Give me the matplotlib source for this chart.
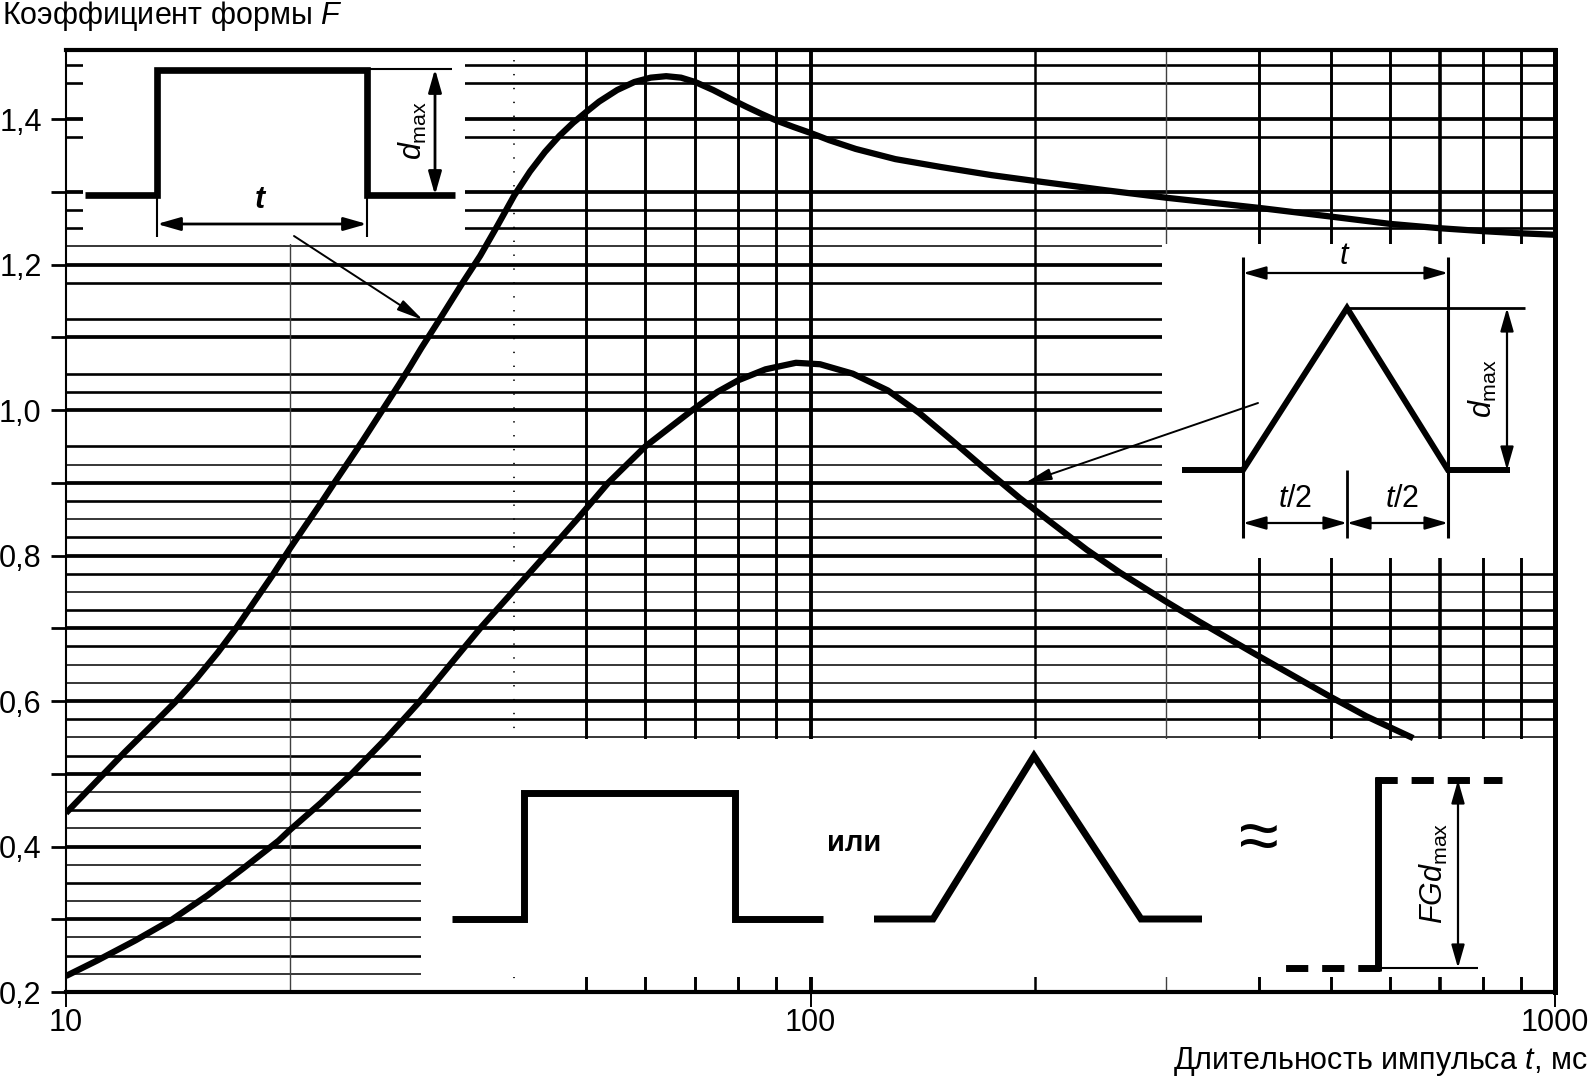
import numpy as np
import matplotlib
matplotlib.use('Agg')
import matplotlib.pyplot as plt
from matplotlib.patches import Rectangle
from matplotlib.ticker import FixedLocator, NullLocator

plt.rcParams['font.family'] = ['Liberation Sans', 'DejaVu Sans']
plt.rcParams['mathtext.fontset'] = 'custom'
plt.rcParams['mathtext.rm'] = 'Liberation Sans'
plt.rcParams['mathtext.it'] = 'Liberation Sans:italic'
plt.rcParams['mathtext.bf'] = 'Liberation Sans:bold'
plt.rcParams['lines.scale_dashes'] = False

# --- data ---
# rectangular pulse
rect_t = [10, 11, 12, 13, 14, 15, 16, 17, 18, 19, 20, 21, 22, 23, 24, 25, 26,
          27, 28, 29, 30, 32, 34, 36, 38, 40, 42, 44, 46, 48, 50, 52, 55, 58,
          61, 64, 67, 70, 74, 78, 82, 86, 90, 95, 100, 106, 115, 130, 150, 175,
          200, 250, 300, 400, 500, 600, 700, 800, 900, 1000]
rect_F = [0.446, 0.490, 0.530, 0.565, 0.598, 0.632, 0.667, 0.703, 0.740, 0.775,
          0.810, 0.842, 0.872, 0.902, 0.930, 0.957, 0.984, 1.010, 1.035, 1.060,
          1.085, 1.130, 1.173, 1.212, 1.254, 1.295, 1.328, 1.355, 1.377, 1.395,
          1.410, 1.424, 1.440, 1.451, 1.457, 1.459, 1.457, 1.451, 1.440, 1.428,
          1.417, 1.407, 1.398, 1.389, 1.381, 1.371, 1.359, 1.345, 1.334, 1.323,
          1.315, 1.302, 1.292, 1.278, 1.266, 1.256, 1.250, 1.246, 1.243, 1.241]

# triangular pulse
tri_t = [10, 11, 12.4, 13.9, 15.5, 17.3, 19.3, 20, 22, 24.2, 27, 29.9, 32.8,
         36, 39.8, 44, 48.6, 53.5, 60, 69.4, 75, 80, 87, 95.6, 103, 114, 127,
         140, 155, 172.5, 191, 212, 235, 260, 300, 333, 398, 450, 497, 558, 645]
tri_F = [0.222, 0.243, 0.271, 0.300, 0.333, 0.370, 0.408, 0.423, 0.460, 0.500,
         0.550, 0.600, 0.650, 0.700, 0.750, 0.800, 0.850, 0.900, 0.950, 1.000,
         1.025, 1.041, 1.056, 1.065, 1.063, 1.050, 1.027, 0.996, 0.958, 0.917,
         0.879, 0.843, 0.808, 0.777, 0.737, 0.709, 0.663, 0.632, 0.607, 0.579,
         0.549]

x_ticks = [10, 100, 1000]
x_ticklabels = ['10', '100', '1000']
y_ticks = [0.2, 0.4, 0.6, 0.8, 1.0, 1.2, 1.4]
y_ticklabels = ['0,2', '0,4', '0,6', '0,8', '1,0', '1,2', '1,4']
y_minor = [0.3, 0.5, 0.7, 0.9, 1.1, 1.3]

# horizontal grid every 0.025; weight class: 3 thick, 2 medium, 1 thin, 0 not visible
h_levels = [round(0.225 + 0.025 * i, 3) for i in range(51)]
h_class = [1, 2, 1, 3, 1, 2, 1, 3, 1, 2, 1, 3, 2, 1, 2, 3, 1, 1, 2, 3, 2, 1, 2, 3,
           2, 1, 2, 3, 1, 2, 0, 3, 2, 2, 0, 3, 2, 0, 2, 3, 1, 2, 2, 3, 0, 0, 2, 3,
           0, 2, 2]
h_lw = {1: 1.1, 2: 1.9, 3: 2.7}

# vertical grid
v_solid = [50, 60, 70, 80, 90, 400, 500, 600, 800, 900]
v_thin = [20, 300]

fig = plt.figure(figsize=(15.9, 10.83), dpi=100)
ax = fig.add_axes([66 / 1590, 1 - 992 / 1083, (1555 - 66) / 1590, (992 - 50) / 1083])
ax.set_xscale('log')
ax.set_xlim(10, 1000)
ax.set_ylim(0.2, 1.495)

for lev, c in zip(h_levels, h_class):
    if c:
        ax.axhline(lev, color='k', lw=h_lw[c], zorder=1)
for xv in v_solid:
    ax.axvline(xv, color='k', lw=2.1, zorder=1)
ax.axvline(700, color='k', lw=2.6, zorder=1)
ax.axvline(100, color='k', lw=2.8, zorder=1)
ax.axvline(200, color='k', lw=1.8, zorder=1)
for xv in v_thin:
    ax.axvline(xv, color='0.25', lw=1.0, zorder=1)
ax.axvline(40, color='k', lw=1.2, ls=(0, (1, 9)), zorder=1)

# white masks under the sketches
for (x0, x1, y0, y1) in [(10.54, 34.4, 1.228, 1.6), (297, 1000, 0.797, 1.228),
                         (30, 1000, 0.2206, 0.5475)]:
    ax.add_patch(Rectangle((x0, y0), x1 - x0, y1 - y0, facecolor='white',
                           edgecolor='none', zorder=2))

ax.plot(rect_t, rect_F, color='k', lw=4.5, solid_capstyle='butt',
        solid_joinstyle='round', zorder=3)
ax.plot(tri_t, tri_F, color='k', lw=4.5, solid_capstyle='butt',
        solid_joinstyle='round', zorder=3)

ax.xaxis.set_major_locator(FixedLocator(x_ticks))
ax.xaxis.set_minor_locator(NullLocator())
ax.set_xticklabels(x_ticklabels)
ax.yaxis.set_major_locator(FixedLocator(y_ticks))
ax.yaxis.set_minor_locator(FixedLocator(y_minor))
ax.set_yticklabels(y_ticklabels)
ax.tick_params(axis='x', which='major', direction='out', length=11, width=1.4,
               pad=0.5, labelsize=22)
ax.tick_params(axis='y', which='both', direction='out', length=11, width=2.0,
               pad=6.5, labelsize=22)
for s, w in [('top', 3.0), ('bottom', 3.0), ('right', 3.6), ('left', 1.5)]:
    ax.spines[s].set_linewidth(w)
    ax.spines[s].set_zorder(4)

fig.text(2 / 1590, 1 - 16 / 1083, 'Коэффициент формы $F$', fontsize=22,
         ha='left', va='center')
fig.text(1587 / 1590, 1 - 1062 / 1083, 'Длительность импульса $t$, мс',
         fontsize=22, ha='right', va='center')

# --- sketches, drawn in figure pixels ---
ov = fig.add_axes([0, 0, 1, 1], zorder=5)
ov.set_xlim(0, 1590)
ov.set_ylim(1083, 0)
ov.axis('off')
ov.patch.set_alpha(0)


def line(xs, ys, lw, **kw):
    ov.plot(xs, ys, color='k', lw=lw, solid_capstyle='butt',
            solid_joinstyle='miter', **kw)


def dim(p0, p1, lw=1.6, hl=14, hw=4.0):
    ov.annotate('', xy=p1, xytext=p0,
                arrowprops=dict(arrowstyle=f'<|-|>,head_length={hl},head_width={hw}',
                                mutation_scale=1, lw=lw, color='k',
                                shrinkA=0, shrinkB=0))


def pointer(p0, p1):
    ov.annotate('', xy=p1, xytext=p0,
                arrowprops=dict(arrowstyle='-|>,head_length=16,head_width=3.5',
                                mutation_scale=1, lw=1.4, color='k',
                                shrinkA=0, shrinkB=0))


# top-left: rectangular pulse
line([85, 157, 157, 367, 367, 455], [195, 195, 70, 70, 195, 195], 4.8)
line([157, 157], [195, 237], 1.5)
line([367, 367], [195, 237], 1.5)
dim((157, 224), (367, 224), lw=2.0)
ov.text(260, 200, 't', fontsize=22, style='italic', weight='bold',
        ha='center', va='center')
line([367, 452], [69, 69], 1.5)
dim((435, 69), (435, 195), lw=2.0)
ov.text(413, 130, '$d_{\\mathrm{max}}$', fontsize=22, rotation=90,
        ha='center', va='center')
pointer((294, 236), (423, 320))

# right: triangular pulse
line([1182, 1243, 1347, 1448, 1510], [470, 470, 308, 470, 470], 4.3)
line([1243, 1243], [257, 538], 2.2)
line([1448, 1448], [257, 538], 2.2)
line([1347, 1347], [470, 538], 2.0)
line([1347, 1525], [308, 308], 2.0)
dim((1243, 273), (1448, 273))
ov.text(1345, 256, '$t$', fontsize=22, ha='center', va='center')
dim((1507, 308), (1507, 470))
ov.text(1483, 388, '$d_{\\mathrm{max}}$', fontsize=22, rotation=90,
        ha='center', va='center')
dim((1243, 523), (1347, 523))
dim((1347, 523), (1448, 523))
ov.text(1295, 499, '$t$/2', fontsize=22, ha='center', va='center')
ov.text(1402, 499, '$t$/2', fontsize=22, ha='center', va='center')
pointer((1258, 403), (1025, 483))

# bottom: equivalence sketch
line([452, 524, 524, 735, 735, 823], [919, 919, 793, 793, 919, 919], 5.0)
ov.text(854, 843, 'или', fontsize=21, weight='bold', ha='center', va='center')
line([874, 933, 1034, 1141, 1202], [919, 919, 756, 919, 919], 5.0)
ov.text(1259, 842, '≈', fontsize=52, ha='center', va='center')
line([1375, 1502], [780, 780], 5.0, dashes=(16, 10))
line([1378, 1378], [777, 971], 5.0)
line([1380, 1285], [968, 968], 5.0, dashes=(16, 10))
line([1380, 1478], [968, 968], 1.5)
dim((1458, 780), (1458, 968))
ov.text(1434, 873, '$FGd_{\\mathrm{max}}$', fontsize=22, rotation=90,
        ha='center', va='center')

fig.savefig('out.png', dpi=100, facecolor='white')
